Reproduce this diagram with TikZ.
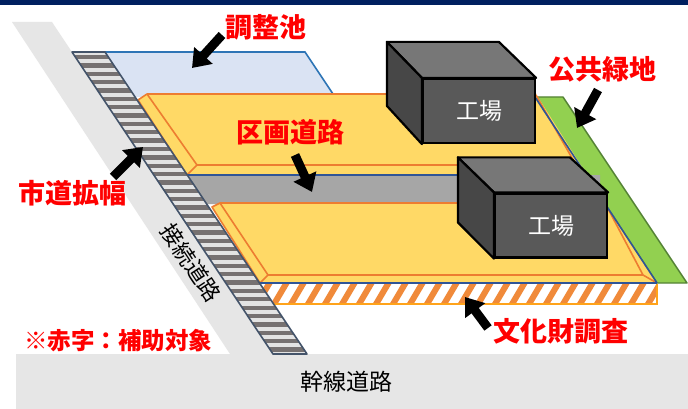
\documentclass[tikz,border=0pt]{standalone}
\usepackage{fontspec}
\newfontfamily\jp{Noto Sans CJK JP}
\usetikzlibrary{arrows.meta,calc}
\definecolor{navy}{HTML}{002060}
\definecolor{roadgrey}{HTML}{E6E6E6}
\definecolor{pondfill}{HTML}{DAE3F3}
\definecolor{pondline}{HTML}{2E75B6}
\definecolor{plotfill}{HTML}{FFD966}
\definecolor{plotline}{HTML}{ED7D31}
\definecolor{midroad}{HTML}{A6A6A6}
\definecolor{siteblue}{HTML}{2F5597}
\definecolor{greenfill}{HTML}{92D050}
\definecolor{greenline}{HTML}{548235}
\definecolor{boxtop}{HTML}{777777}
\definecolor{boxfront}{HTML}{595959}
\definecolor{boxleft}{HTML}{474747}
\definecolor{stripedark}{HTML}{767171}
\definecolor{stripelight}{HTML}{E3E3E3}
\definecolor{slate}{HTML}{44546A}
\definecolor{hatchorange}{HTML}{F08A3A}
\definecolor{hatchedge}{HTML}{FFA31A}
\definecolor{labelred}{HTML}{FF0000}
\begin{document}
\begin{tikzpicture}[x=1pt,y=-1pt,
  redlabel/.style={font=\jp\bfseries\fontsize{27}{31}\selectfont, text=labelred, inner sep=0pt},
  blacklabel/.style={font=\jp\fontsize{23}{27}\selectfont, text=black, inner sep=0pt},
  factory/.style={draw=black, line width=2.2pt, fill=boxfront, minimum width=112pt, minimum height=64pt,
     text=white, font=\jp\fontsize{23}{27}\selectfont, inner sep=0pt},
  faceline/.style={draw=black, line width=2.2pt, line join=round},
  blockarrow/.style={line width=9pt, black, -{Triangle[length=17pt,width=24pt]}},
  plotedge/.style={draw=plotline, line width=1.6pt, line join=round},
  blueedge/.style={draw=siteblue, line width=1.6pt}]
\useasboundingbox (0,0) rectangle (688,409);
\fill[white] (0,0) rectangle (688,409);
\fill[navy] (0,0) rectangle (688,5);

% connection road and trunk road
\fill[roadgrey] (12,22) -- (52,22) -- (273,354) -- (230,354) -- cycle;
\fill[roadgrey] (16,354) rectangle (688,409);

% pond
\fill[pondfill] (105,52) -- (305,52) -- (336,97) -- (130,97) -- cycle;
\draw[draw=pondline, line width=1.6pt] (105,52) -- (305,52) -- (333,94);

% green strip
\filldraw[fill=greenfill, draw=greenline, line width=1.4pt, line join=round]
  (535,97) -- (563,97) -- (687,283) -- (657,283) -- cycle;

% internal road
\fill[midroad] (180,175) -- (600,175) -- (600,204) -- (200,204) -- cycle;

% top plot
\fill[plotfill] (138,100) -- (147,94) -- (536,94) -- (587,175) -- (187,175) -- cycle;
\draw[plotedge] (187,175) -- (138,100) -- (147,94) -- (536,94);
\draw[plotedge] (147,94) -- (197,165) -- (576,165) -- (536,95);
\draw[plotedge] (197,165) -- (187,175);
\draw[plotedge] (576,165) -- (587,175);
\draw[blueedge] (187,175) -- (587,175);

% bottom plot
\fill[plotfill] (212,207) -- (220,203) -- (605,203) -- (657,283) -- (260,283) -- cycle;
\draw[plotedge] (260,283) -- (212,207) -- (220,203) -- (605,203);
\draw[plotedge] (220,203) -- (268,275) -- (643,275) -- (605,203);
\draw[plotedge] (268,275) -- (260,283);
\draw[plotedge] (643,275) -- (657,283);

% cultural property survey strip
\begin{scope}
  \clip (259,284) -- (657,284) -- (657,304) -- (273,304) -- cycle;
  \fill[white] (250,280) rectangle (660,306);
  \foreach \x in {236,253,...,670}
    \fill[hatchorange] (\x,305) -- (\x+7,305) -- (\x+20,283) -- (\x+13,283) -- cycle;
\end{scope}
\draw[draw=hatchedge, line width=1.4pt] (657,284) -- (657,304) -- (273,304);
\draw[blueedge] (260,283) -- (657,283);

% site boundary
\draw[blueedge] (535,97) -- (657,283);

% widened city road (striped)
\begin{scope}
  \clip (72,52) -- (105,52) -- (307,354) -- (273,354) -- cycle;
  \fill[stripelight] (60,40) rectangle (320,360);
  \foreach \i in {0,...,36}
    \fill[stripedark] (60,{55+8.35*\i}) rectangle (320,{59.3+8.35*\i});
\end{scope}
\draw[draw=slate, line width=1.6pt, line join=round] (72,52) -- (105,52) -- (307,354) -- (273,354) -- cycle;

% factories
\node[factory] (f1) at (479,111) {工場};
\path[faceline, fill=boxtop] (f1.north west) -- ++(-35,-36) -- ++(112,0) -- (f1.north east) -- cycle;
\path[faceline, fill=boxleft] (f1.north west) -- ++(-35,-36) -- ++(0,64) -- (f1.south west) -- cycle;
\node[factory] (f2) at (551,225.5) {工場};
\path[faceline, fill=boxtop] (f2.north west) -- ++(-36,-35) -- ++(112,0) -- (f2.north east) -- cycle;
\path[faceline, fill=boxleft] (f2.north west) -- ++(-36,-35) -- ++(0,65) -- (f2.south west) -- cycle;

% labels
\node[redlabel] (pond) at (266,27) {調整池};
\node[redlabel] (kukaku) at (290,132) {区画道路};
\node[redlabel] (shido) at (72,193) {市道拡幅};
\node[redlabel] (ryokuchi) at (602,69) {公共緑地};
\node[redlabel] (bunka) at (561,331) {文化財調査};
\node[redlabel, font=\jp\bfseries\fontsize{23.5}{27}\selectfont] (note) at (118,341) {※赤字：補助対象};
\node[blacklabel, font=\jp\fontsize{22}{26}\selectfont, rotate=-56.5] (setsuzoku) at (191,263) {接続道路};
\node[blacklabel] (kansen) at (346,382) {幹線道路};

% arrows
\coordinate (a1s) at (222,35);  \coordinate (a1e) at (192,68);
\coordinate (a2s) at (295,155); \coordinate (a2e) at (312,192);
\coordinate (a3s) at (113,177); \coordinate (a3e) at (143,147);
\coordinate (a4s) at (598,90);  \coordinate (a4e) at (577,128);
\coordinate (a5s) at (488,328); \coordinate (a5e) at (465,297);
\draw[blockarrow] (a1s) -- (a1e);
\draw[blockarrow] (a2s) -- (a2e);
\draw[blockarrow] (a3s) -- (a3e);
\draw[blockarrow] (a4s) -- (a4e);
\draw[blockarrow] (a5s) -- (a5e);
\end{tikzpicture}
\end{document}
